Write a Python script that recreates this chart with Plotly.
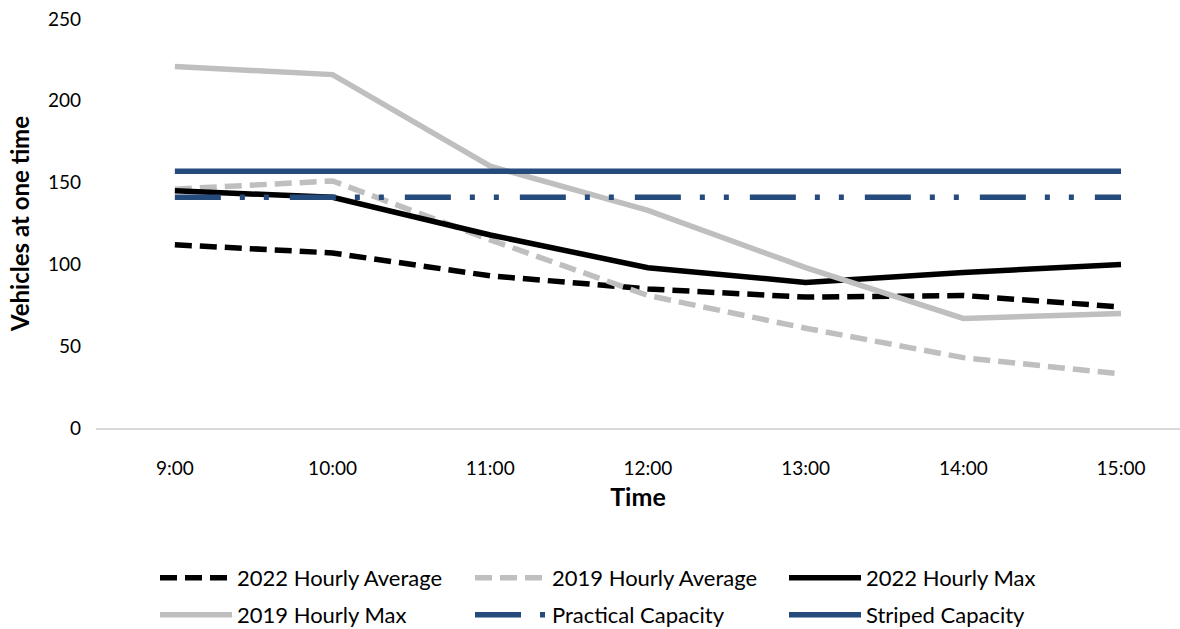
import plotly.graph_objects as go

# Hourly occupancy by time of day
times = ["9:00", "10:00", "11:00", "12:00", "13:00", "14:00", "15:00"]
avg_2022 = [112, 107, 93, 85, 80, 81, 74]
avg_2019 = [146, 151, 115, 81, 61, 43, 33]
max_2022 = [145, 141, 118, 98, 89, 95, 100]
max_2019 = [221, 216, 160, 133, 98, 67, 70]
practical_capacity = [141] * len(times)
striped_capacity = [157] * len(times)

NAVY = "#254B7C"
GRAY = "#BFBFBF"
FONT = "Lato"

series = [
    ("2022 Hourly Average", avg_2022, "black", "17px,8px", "legend"),
    ("2019 Hourly Average", avg_2019, GRAY, "17px,8px", "legend2"),
    ("2022 Hourly Max", max_2022, "black", "solid", "legend3"),
    ("2019 Hourly Max", max_2019, GRAY, "solid", "legend4"),
    ("Practical Capacity", practical_capacity, NAVY, "46px,19px,5px,19px,5px,21px", "legend5"),
    ("Striped Capacity", striped_capacity, NAVY, "solid", "legend6"),
]

fig = go.Figure()
for name, vals, color, dash, leg in series:
    fig.add_trace(go.Scatter(
        x=times, y=vals, name=name, mode="lines",
        line=dict(color=color, width=5.5, dash=dash),
        legend=leg,
    ))

W, H = 1180, 629
# legend entry anchor points (px from top-left), three equal columns
legend_px = {
    "legend": (155, 578), "legend2": (470, 578), "legend3": (784, 578),
    "legend4": (155, 615), "legend5": (470, 615), "legend6": (784, 615),
}
legend_layout = {}
for key, (px, py) in legend_px.items():
    legend_layout[key] = dict(
        x=px / W, y=1 - py / H, xref="container", yref="container",
        xanchor="left", yanchor="middle", orientation="h",
        font=dict(family=FONT, size=22, color="black"),
        itemwidth=72, bgcolor="rgba(0,0,0,0)", borderwidth=0,
        tracegroupgap=0,
    )

fig.update_layout(
    width=W, height=H,
    margin=dict(l=96, r=0, t=19, b=201),
    paper_bgcolor="white", plot_bgcolor="white",
    font=dict(family=FONT, size=19, color="black"),
    showlegend=True,
    **legend_layout,
)

fig.update_xaxes(
    type="category", range=[-0.5, 6.374],
    showgrid=False, zeroline=False,
    showline=True, linecolor="#D9D9D9", linewidth=2,
    ticks="", ticklabelstandoff=22,
    tickfont=dict(family=FONT, size=19, color="black"),
    title=dict(text="<b>Time</b>", font=dict(family=FONT, size=25, color="black"), standoff=11),
)
fig.update_yaxes(
    range=[0, 250], tickvals=[0, 50, 100, 150, 200, 250],
    showgrid=False, zeroline=False, showline=False,
    ticks="", ticklabelstandoff=14,
    tickfont=dict(family=FONT, size=19, color="black"),
    title=dict(text="<b>Vehicles at one time</b>", font=dict(family=FONT, size=24, color="black"), standoff=11),
)

fig.write_html("out.html")
